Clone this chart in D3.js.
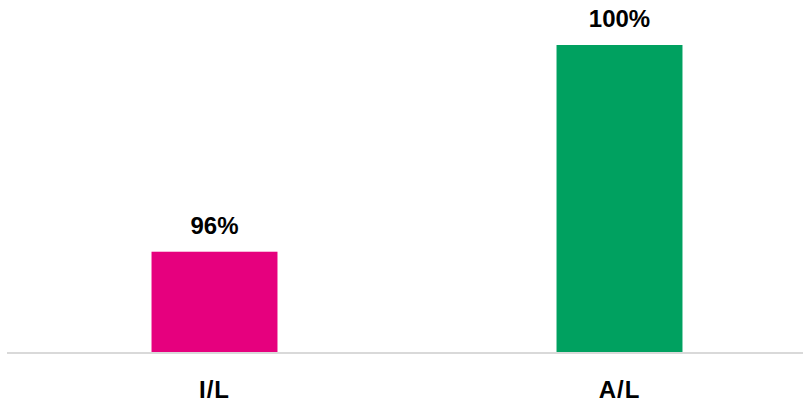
<!DOCTYPE html>
<html>
<head>
<meta charset="utf-8">
<script src="https://cdn.jsdelivr.net/npm/d3@7"></script>
<style>
  html, body { margin: 0; padding: 0; background: #fff; }
  svg { display: block; }
</style>
</head>
<body>
<svg id="chart" width="803" height="407"></svg>
<script>
const categories = ["I/L", "A/L"];
const values = [96, 100];
const valueLabels = ["96%", "100%"];
const colors = ["#E6007E", "#00A160"];
const yDomain = [94.05, 100];

const svg = d3.select("#chart");
const baseline = 352.5;

const x = d3.scaleBand()
  .domain(categories)
  .range([12, 822])
  .paddingInner(0.689)
  .paddingOuter(0.3445);

const y = d3.scaleLinear()
  .domain(yDomain)
  .range([baseline, 45]);

const data = categories.map((c, i) => ({ c, v: values[i], label: valueLabels[i], color: colors[i] }));

svg.selectAll("rect.bar")
  .data(data)
  .join("rect")
  .attr("class", "bar")
  .attr("x", d => x(d.c))
  .attr("y", d => y(d.v))
  .attr("width", x.bandwidth())
  .attr("height", d => baseline - y(d.v))
  .attr("fill", d => d.color);

// axis baseline
svg.append("line")
  .attr("x1", 7).attr("x2", 803)
  .attr("y1", baseline + 0.5).attr("y2", baseline + 0.5)
  .attr("stroke", "#d9d9d9")
  .attr("stroke-width", 2);

const font = "'Liberation Sans', Arial, sans-serif";

svg.selectAll("text.val")
  .data(data)
  .join("text")
  .attr("class", "val")
  .attr("x", d => x(d.c) + x.bandwidth() / 2)
  .attr("y", d => y(d.v) - 18)
  .attr("text-anchor", "middle")
  .attr("font-family", font)
  .attr("font-weight", "bold")
  .attr("font-size", 24)
  .attr("fill", "#000")
  .text(d => d.label);

const xAxis = d3.axisBottom(x).tickSize(0).tickPadding(0);
const gx = svg.append("g")
  .attr("transform", `translate(0, ${baseline})`)
  .call(xAxis);
gx.select(".domain").remove();
gx.selectAll("text")
  .attr("y", 45)
  .attr("dy", 0)
  .attr("font-family", font)
  .attr("font-weight", "bold")
  .attr("font-size", 24)
  .attr("letter-spacing", 1)
  .attr("fill", "#000");
</script>
</body>
</html>
